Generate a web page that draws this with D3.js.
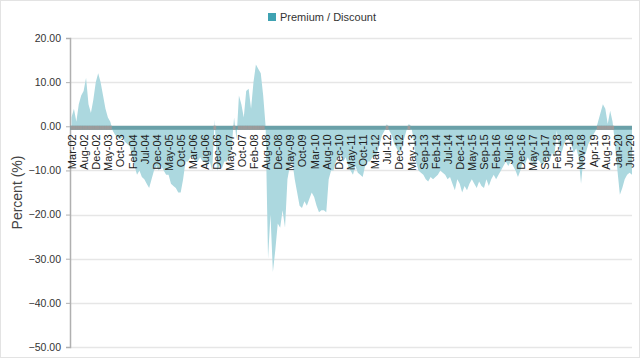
<!DOCTYPE html>
<html>
<head>
<meta charset="utf-8">
<script src="https://cdn.jsdelivr.net/npm/d3@7/dist/d3.min.js"></script>
<style>
  html, body { margin: 0; padding: 0; background: #fff; }
  svg { display: block; font-family: "Liberation Sans", Arial, sans-serif; }
</style>
</head>
<body>
<svg id="chart" width="640" height="361"></svg>
<script>
// ---- Data (values every 4 weeks, Mar-02 .. Jul-20) ----
const seriesName = "Premium / Discount";
const yTicks = [20, 10, 0, -10, -20, -30, -40, -50];
const tickLabels = ["Mar-02","Aug-02","Dec-02","May-03","Oct-03","Feb-04","Jul-04","Dec-04","May-05","Oct-05",
  "Mar-06","Aug-06","Dec-06","May-07","Oct-07","Feb-08","Aug-08","Dec-08","May-09","Oct-09",
  "Mar-10","Aug-10","Dec-10","May-11","Oct-11","Mar-12","Jul-12","Dec-12","May-13","Sep-13",
  "Feb-14","Jul-14","Dec-14","May-15","Sep-15","Feb-16","Jul-16","Dec-16","May-17","Sep-17",
  "Feb-18","Jun-18","Nov-18","Apr-19","Aug-19","Jan-20","Jun-20"];
const pointsPerTick = 5;
const values = [
  2, 4, 1, 5, 7,
  8, 11, 5, 3, 6,
  10, 12, 10, 7, 4,
  2, 1, -1, -2, -2.5,
  -3, -2.5, -3.5, -4, -4.5,
  -7, -9, -11, -10, -11.5,
  -12, -13, -14, -12, -10,
  -9, -10, -9, -10, -11,
  -11, -13, -13.5, -14, -15,
  -15, -12, -8, -8, -7,
  -7, -8, -8, -7, -8,
  -8, -9, -8, -10, 1.5,
  -10, -9, -9.5, -8, -8,
  -7, -5, 2, -3, 7,
  5, 2, 8, 8.5, 4,
  10, 14, 13, 12, 7,
  0, -30, -20, -33, -28,
  -22, -23, -19, -23, -12,
  -9, -8, -12, -15, -18,
  -18.5, -17, -18, -16.5, -15,
  -16, -18, -19.5, -19, -19,
  -19.5, -12, -10, -10, -8,
  -7, -6, -8, -7, -9,
  -10, -11, -9, -10.5, -11,
  -11.5, -9, -8, -8, -7,
  -7, -6, -4, -2, -1,
  0.5, -1, -2, -4, -5,
  -6, -5.5, -3, -1, 0.5,
  0, -3, -8, -10, -10.5,
  -11, -12, -12.5, -11.5, -12,
  -11.5, -11, -10, -10.5, -11,
  -12, -11.5, -13, -14.5, -12,
  -13, -15, -13.5, -14.5, -13,
  -12, -13, -14, -12.5, -13.5,
  -14, -12, -13.5, -12, -11,
  -12, -11, -10, -9, -8,
  -9, -8, -9, -10, -11.5,
  -10, -8, -8.5, -7, -8,
  -8, -9, -7.5, -8, -9,
  -8, -7, -8, -6, -7,
  -1, -5, -6, -4, -3,
  -3, -4, -6, -5, -7,
  -13, -7, -6, -4, -3,
  -2, -1, 1, 3, 5,
  4, 0.5, 3.5, 1, -4,
  -10, -15.5, -14, -12, -11,
  -10.5, -11
];

// ---- Layout ----
const svg = d3.select("#chart");
const W = 640, H = 361;
const plotLeft = 70, plotRight = 632, plotTop = 38, plotBottom = 347;

const x = d3.scaleLinear().domain([0, values.length - 1]).range([71.5, 632]);
const y = d3.scaleLinear().domain([-50, 20]).range([plotBottom, plotTop]);

// outer border
svg.append("rect").attr("x", 0.5).attr("y", 0.5).attr("width", W - 1).attr("height", 357)
  .attr("fill", "none").attr("stroke", "#e3e3e3");

// gridlines
svg.append("g").selectAll("line").data(yTicks).join("line")
  .attr("x1", plotLeft).attr("x2", plotRight)
  .attr("y1", d => Math.round(y(d)) + 0.5).attr("y2", d => Math.round(y(d)) + 0.5)
  .attr("stroke", "#e6e6e6").attr("stroke-width", 1.5);

// y axis
const yAxis = d3.axisLeft(y).tickValues(yTicks).tickFormat(d3.format(".2f")).tickSize(4).tickPadding(5);
const gy = svg.append("g").attr("transform", `translate(${plotLeft},0)`).call(yAxis);
gy.select(".domain").attr("stroke", "#b0b0b0").attr("stroke-width", 1.5);
gy.selectAll(".tick line").attr("stroke", "#b0b0b0");
gy.selectAll(".tick text").attr("fill", "#333").attr("font-size", 10.5)
  .attr("font-family", "'Liberation Sans', Arial, sans-serif");

// y axis title
svg.append("text")
  .attr("transform", `translate(22,${(plotTop + plotBottom) / 2}) rotate(-90)`)
  .attr("text-anchor", "middle")
  .attr("font-size", 14).attr("fill", "#444")
  .text("Percent (%)");

// area
const area = d3.area()
  .x((d, i) => x(i))
  .y0(y(0))
  .y1(d => y(d));
svg.append("path").datum(values)
  .attr("d", area)
  .attr("fill", "#acd8df");

// zero band (x axis line)
const zeroY = y(0);
svg.append("rect").attr("x", plotLeft).attr("y", zeroY - 0.5)
  .attr("width", plotRight - plotLeft).attr("height", 4).attr("fill", "#6aa0a8");
const step = x(1) - x(0);
svg.append("g").selectAll("rect").data(values.map((v, i) => ({ v, i })).filter(d => d.v > 0)).join("rect")
  .attr("x", d => x(d.i) - step / 2).attr("y", zeroY - 0.5)
  .attr("width", step + 0.3).attr("height", 4).attr("fill", "#9b9b9b");

// x tick labels
const tickIdx = tickLabels.map((t, k) => k * pointsPerTick);
const xAxis = d3.axisBottom(x).tickValues(tickIdx)
  .tickFormat((d, k) => tickLabels[k]).tickSize(0).tickPadding(0);
const gx = svg.append("g").attr("transform", `translate(0,${zeroY})`).call(xAxis);
gx.select(".domain").remove();
gx.selectAll(".tick text")
  .attr("transform", "translate(0,8) rotate(-90)")
  .attr("text-anchor", "end")
  .attr("x", 0).attr("y", 0).attr("dy", "0.35em")
  .attr("font-size", 11).attr("fill", "#222")
  .attr("font-family", "'Liberation Sans', Arial, sans-serif");

// legend
const lg = svg.append("g").attr("transform", "translate(268,12)");
lg.append("rect").attr("x", 0).attr("y", 1).attr("width", 8).attr("height", 8).attr("fill", "#3fa2b2");
lg.append("text").attr("x", 12).attr("y", 9).attr("font-size", 11).attr("fill", "#333").text(seriesName);
</script>
</body>
</html>
